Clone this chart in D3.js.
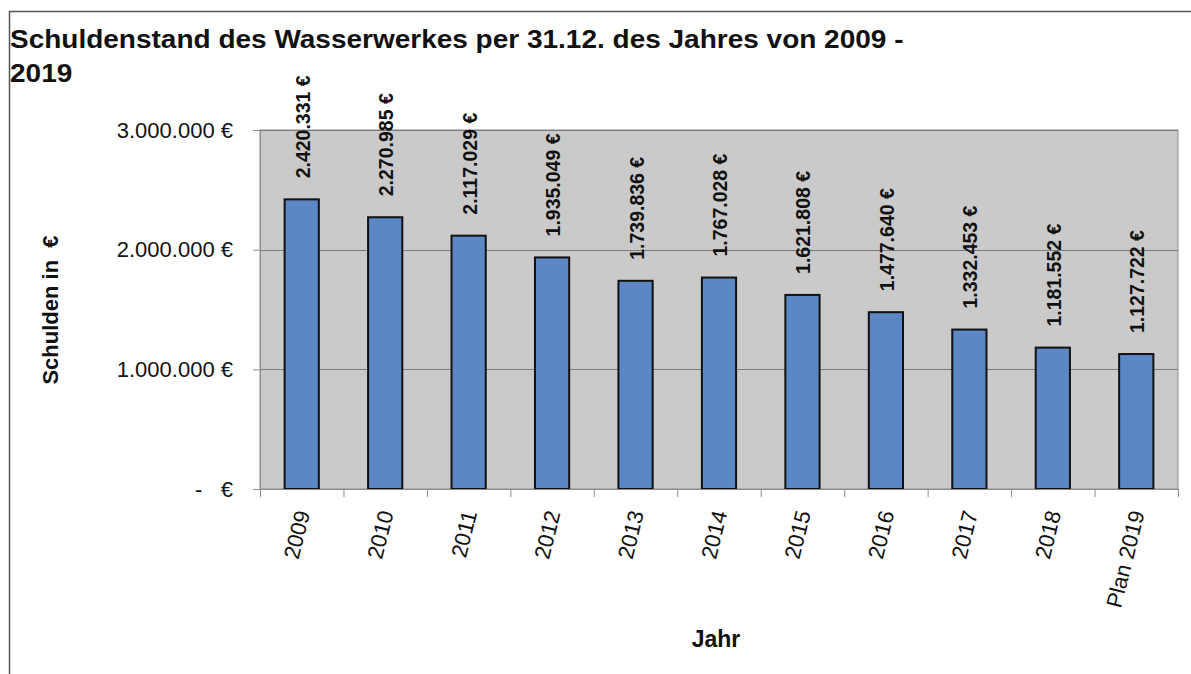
<!DOCTYPE html>
<html>
<head>
<meta charset="utf-8">
<script src="https://cdn.jsdelivr.net/npm/d3@7"></script>
<style>
  body { margin: 0; background: #fff; }
  text { font-family: "Liberation Sans", Arial, sans-serif; fill: #111; }
</style>
</head>
<body>
<svg id="chart" width="1191" height="674"></svg>
<script>
// data
var years = ["2009", "2010", "2011", "2012", "2013", "2014", "2015", "2016", "2017", "2018", "Plan 2019"];
var debts = [2420331, 2270985, 2117029, 1935049, 1739836, 1767028, 1621808, 1477640, 1332453, 1181552, 1127722];
var yTicks = [0, 1000000, 2000000, 3000000];

var svg = d3.select("#chart");

var margin = {left: 260, right: 13, top: 130, bottom: 185};
var W = 1191, H = 674;
var pw = W - margin.left - margin.right;
var ph = H - margin.top - margin.bottom;

var de = d3.formatLocale({decimal: ",", thousands: ".", grouping: [3], currency: ["", " €"]});
var fmt = de.format(",d");

// outer frame
svg.append("path")
    .attr("d", "M9.5," + H + "V11.5H" + W)
    .attr("fill", "none").attr("stroke", "#555").attr("stroke-width", 1.5);

// title (the scan is a bit wider than the font, so stretch it)
var title = svg.append("text").attr("transform", "translate(10,48) scale(1.12,1)")
    .style("font-size", "25px").style("font-weight", "bold");
title.append("tspan").attr("x", 0).text("Schuldenstand des Wasserwerkes per 31.12. des Jahres von 2009 -");
title.append("tspan").attr("x", 0).attr("dy", 34).text("2019");

var g = svg.append("g").attr("transform", "translate(" + margin.left + "," + margin.top + ")");

var x = d3.scaleBand().domain(years).range([0, pw]).paddingInner(0.59).paddingOuter(0.295);
var xb = d3.scaleBand().domain(years).range([0, pw]);
var y = d3.scaleLinear().domain([0, 3000000]).range([ph, 0]);

// plot background
g.append("rect").attr("width", pw).attr("height", ph)
    .attr("fill", "#cacaca").attr("stroke", "#8c8c99").attr("stroke-width", 1);

// gridlines
g.selectAll(".grid").data(yTicks).enter().append("line")
    .attr("x1", 0).attr("x2", pw)
    .attr("y1", function(d){ return Math.round(y(d)) + 0.5; })
    .attr("y2", function(d){ return Math.round(y(d)) + 0.5; })
    .attr("stroke", "#7a7a7a").attr("stroke-width", 1);

// bars
g.selectAll(".bar").data(debts).enter().append("rect")
    .attr("x", function(d, i){ return x(years[i]); })
    .attr("y", function(d){ return y(d); })
    .attr("width", x.bandwidth())
    .attr("height", function(d){ return ph - y(d); })
    .attr("fill", "#5b87c5").attr("stroke", "#111").attr("stroke-width", 2);

// value labels
g.selectAll(".lbl").data(debts).enter().append("text")
    .attr("transform", function(d, i){
        return "translate(" + (x(years[i]) + x.bandwidth() / 2 + 8) + "," + (y(d) - 21) + ") rotate(-90)";
    })
    .style("font-size", "19.5px").style("font-weight", "bold")
    .text(function(d){ return fmt(d) + " €"; });

// y axis
var yAxis = d3.axisLeft(y).tickValues(yTicks).tickSize(7).tickPadding(20)
    .tickFormat(function(d){ return d === 0 ? "-\u00a0\u00a0\u00a0€" : fmt(d) + " €"; });
var ya = g.append("g").call(yAxis);
ya.select(".domain").attr("stroke", "#8c8c8c");
ya.selectAll(".tick line").attr("stroke", "#8c8c8c");
ya.selectAll(".tick text").style("font-size", "22px").attr("fill", "#222");

// x axis
var xAxis = d3.axisBottom(xb).tickSize(0).tickPadding(0);
var xa = g.append("g").attr("transform", "translate(0," + ph + ")").call(xAxis);
xa.select(".domain").attr("stroke", "#8c8c8c");
xa.selectAll(".tick text")
    .style("font-size", "22px").attr("fill", "#222")
    .attr("text-anchor", "end")
    .attr("dy", "0.35em")
    .attr("transform", "translate(1,22) rotate(-76)");
// category boundary ticks
g.selectAll(".xtick").data(years.concat([null])).enter().append("line")
    .attr("x1", function(d, i){ return i * xb.step() + 0.5; })
    .attr("x2", function(d, i){ return i * xb.step() + 0.5; })
    .attr("y1", ph).attr("y2", ph + 8)
    .attr("stroke", "#8c8c8c");

// axis titles
svg.append("text")
    .attr("transform", "translate(58," + (margin.top + 180) + ") rotate(-90)")
    .attr("text-anchor", "middle")
    .style("font-size", "22px").style("font-weight", "bold")
    .text("Schulden in\u00a0\u00a0€");

svg.append("text")
    .attr("x", 716).attr("y", 647)
    .attr("text-anchor", "middle")
    .style("font-size", "23px").style("font-weight", "bold")
    .text("Jahr");
</script>
</body>
</html>
